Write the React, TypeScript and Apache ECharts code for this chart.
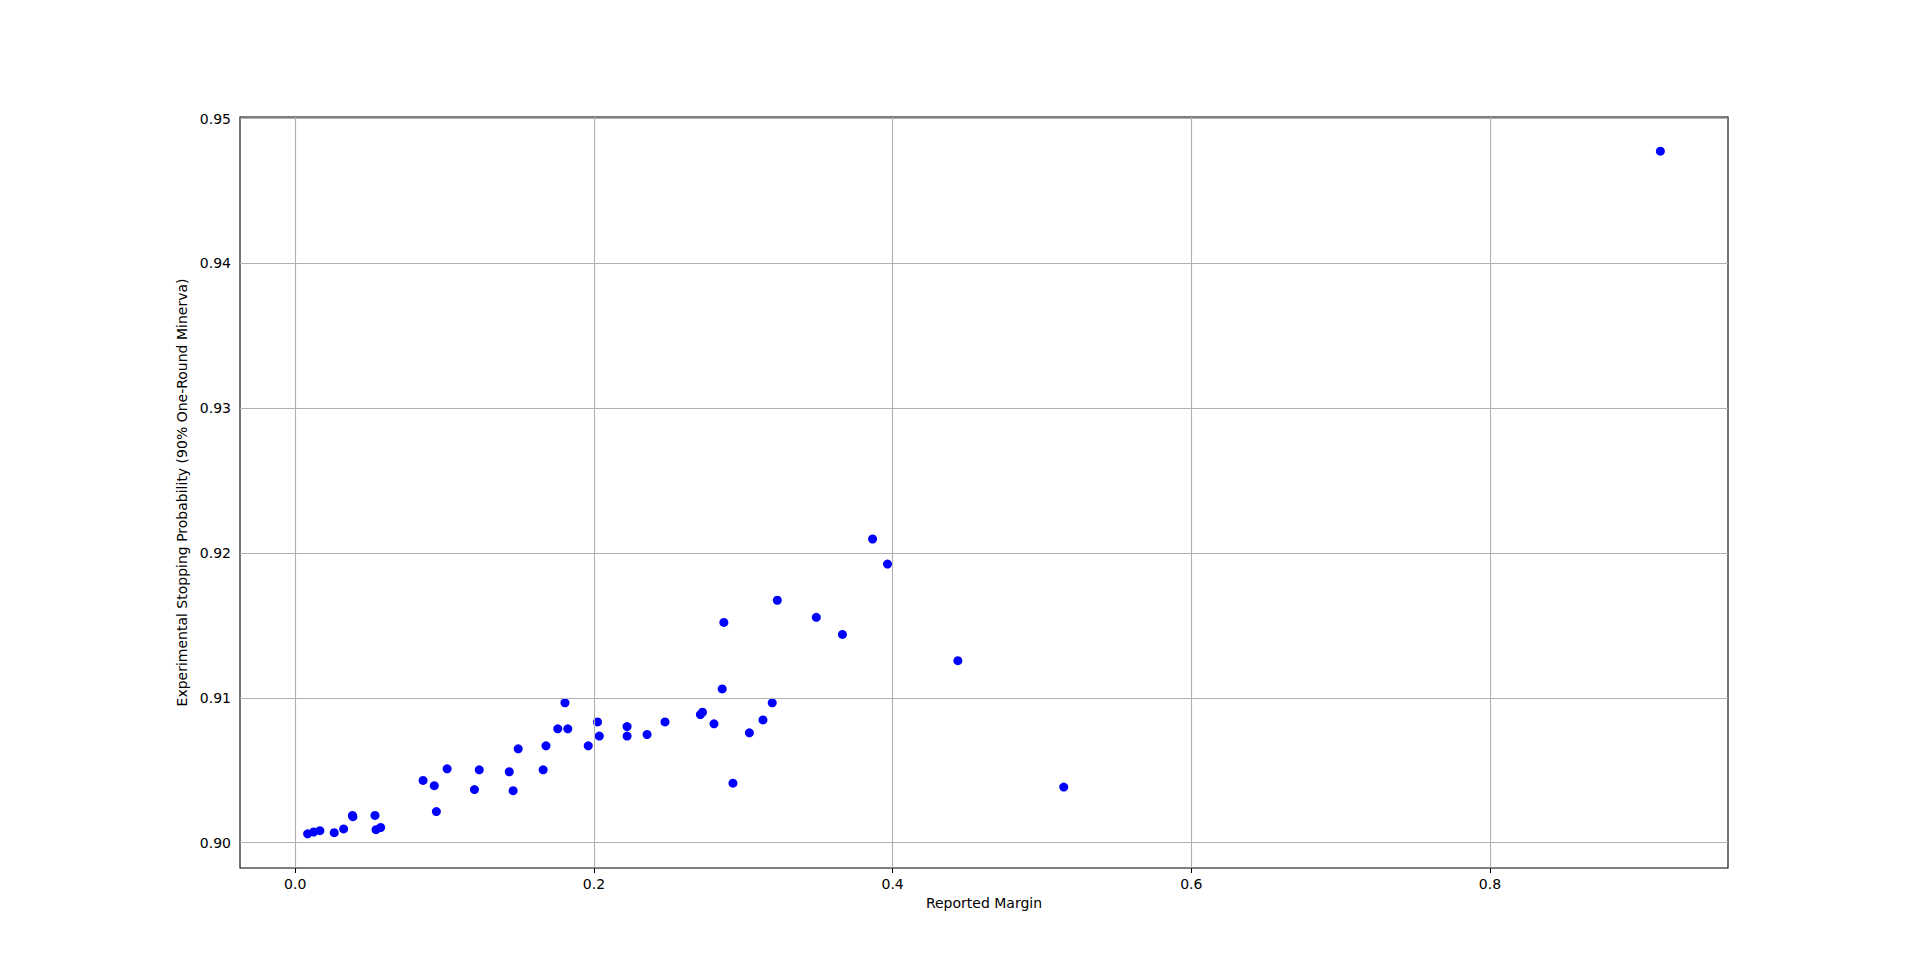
import React, { useEffect, useRef } from "react";
import * as echarts from "echarts";

const reportedMargin: number[] = [
  0.0083, 0.0123, 0.0165, 0.0261, 0.0324, 0.0383, 0.0386, 0.0534, 0.0541, 0.0572,
  0.0856, 0.0931, 0.0945, 0.1017, 0.1200, 0.1232, 0.1433, 0.1459, 0.1493, 0.1660,
  0.1679, 0.1758, 0.1806, 0.1825, 0.1962, 0.2024, 0.2036, 0.2222, 0.2222, 0.2356,
  0.2476, 0.2713, 0.2727, 0.2804, 0.2859, 0.2870, 0.2931, 0.3041, 0.3132, 0.3194,
  0.3228, 0.3489, 0.3664, 0.3866, 0.3966, 0.4437, 0.5146, 0.9141,
];
const stoppingProbability: number[] = [
  0.90061, 0.90074, 0.90083, 0.90069, 0.90095, 0.90188, 0.90180, 0.90188, 0.90090, 0.90105,
  0.90430, 0.90394, 0.90215, 0.90510, 0.90367, 0.90503, 0.90490, 0.90359, 0.90648, 0.90503,
  0.90669, 0.90786, 0.90966, 0.90786, 0.90669, 0.90834, 0.90736, 0.90802, 0.90736, 0.90747,
  0.90834, 0.90885, 0.90901, 0.90821, 0.91062, 0.91521, 0.90411, 0.90759, 0.90848, 0.90966,
  0.91674, 0.91556, 0.91438, 0.92097, 0.91924, 0.91257, 0.90384, 0.94775,
];
const xTicks: number[] = [0.0, 0.2, 0.4, 0.6, 0.8];
const yTicks: number[] = [0.9, 0.91, 0.92, 0.93, 0.94, 0.95];

const xLabel = "Reported Margin";
const yLabel = "Experimental Stopping Probability (90% One-Round Minerva)";

export default function App() {
  const ref = useRef<HTMLDivElement>(null);
  useEffect(() => {
    if (!ref.current) return;
    const chart = echarts.init(ref.current, null, { renderer: "svg" });
    const xs = reportedMargin;
    const ys = stoppingProbability;
    const xMinD = Math.min(...xs), xMaxD = Math.max(...xs);
    const yMinD = Math.min(...ys), yMaxD = Math.max(...ys);
    const xPad = (xMaxD - xMinD) * 0.05;
    const yPad = (yMaxD - yMinD) * 0.05;
    const font = "DejaVu Sans";
    const gridLines = [
      ...xTicks.map((v) => ({ xAxis: v })),
      ...yTicks.map((v) => ({ yAxis: v })),
    ];
    chart.setOption({
      animation: false,
      backgroundColor: "#ffffff",
      textStyle: { fontFamily: font },
      grid: {
        left: 240,
        right: 192,
        top: 117,
        bottom: 107,
        show: true,
        borderColor: "#000000",
        borderWidth: 1.1,
        backgroundColor: "transparent",
        z: 5,
      },
      xAxis: {
        type: "value",
        min: xMinD - xPad,
        max: xMaxD + xPad,
        name: xLabel,
        nameLocation: "middle",
        nameGap: 28,
        nameTextStyle: { fontFamily: font, fontSize: 14, color: "#000" },
        axisLine: { show: false },
        axisTick: {
          show: true,
          inside: false,
          length: 5,
          lineStyle: { color: "#000", width: 1 },
          customValues: xTicks,
        },
        axisLabel: {
          show: true,
          customValues: xTicks,
          formatter: (v: number) => v.toFixed(1),
          fontFamily: font,
          fontSize: 14,
          color: "#000",
          margin: 9,
        },
        splitLine: { show: false },
      },
      yAxis: {
        type: "value",
        min: yMinD - yPad,
        max: yMaxD + yPad,
        name: yLabel,
        nameLocation: "middle",
        nameGap: 47,
        nameRotate: 90,
        nameTextStyle: { fontFamily: font, fontSize: 14, color: "#000" },
        axisLine: { show: false },
        axisTick: {
          show: true,
          inside: false,
          length: 5,
          lineStyle: { color: "#000", width: 1 },
          customValues: yTicks,
        },
        axisLabel: {
          show: true,
          customValues: yTicks,
          formatter: (v: number) => v.toFixed(2),
          fontFamily: font,
          fontSize: 14,
          color: "#000",
          margin: 9,
        },
        splitLine: { show: false },
      },
      series: [
        {
          type: "scatter",
          data: [],
          z: 1,
          silent: true,
          markLine: {
            silent: true,
            symbol: ["none", "none"],
            label: { show: false },
            lineStyle: { color: "#b0b0b0", width: 1.1, type: "solid", opacity: 1 },
            data: gridLines,
          },
        },
        {
          type: "scatter",
          z: 3,
          symbol: "circle",
          symbolSize: 9,
          itemStyle: { color: "#0000ff", opacity: 1 },
          data: xs.map((x, i) => [x, ys[i]]),
        },
      ],
    });
    return () => chart.dispose();
  }, []);
  return (
    <div
      ref={ref}
      style={{ position: "absolute", left: 0, top: 0, width: 1920, height: 975 }}
    />
  );
}
